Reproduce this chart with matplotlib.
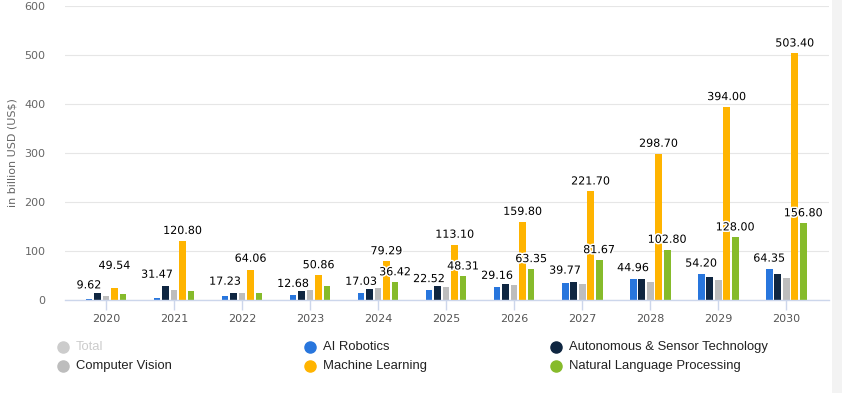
#!/usr/bin/env python3
"""
Artificial intelligence market size by segment, 2020-2030 (grouped bars).
"""

import numpy as np
import matplotlib.pyplot as plt
import matplotlib.patheffects as pe
from matplotlib.lines import Line2D
from matplotlib.patches import Rectangle

# --- data (billion USD) ---
years = ['2020', '2021', '2022', '2023', '2024', '2025',
         '2026', '2027', '2028', '2029', '2030']

ai_robotics = [2.7, 4.8, 8.2, 10.2, 14.3, 21.0, 27.0, 35.0, 43.5, 53.7, 64.0]
autonomous = [14.3, 28.6, 14.3, 18.4, 23.0, 28.6, 32.7, 37.0, 43.5, 47.0, 53.7]
computer_vision = [8.2, 21.0, 14.3, 21.0, 25.0, 26.5, 30.6, 33.0, 37.0, 41.5, 45.5]
machine_learning = [25.3, 120.8, 62.0, 50.86, 79.29, 113.1, 159.8, 221.7, 298.7, 394.0, 503.4]
nlp = [12.2, 18.4, 14.3, 28.6, 36.42, 48.31, 63.35, 81.67, 102.8, 128.0, 156.8]

# data labels as printed on the chart
robotics_labels = [9.62, 31.47, 17.23, 12.68, 17.03, 22.52, 29.16, 39.77, 44.96, 54.20, 64.35]
ml_labels = [49.54, 120.80, 64.06, 50.86, 79.29, 113.10, 159.80, 221.70, 298.70, 394.00, 503.40]
nlp_labels = [None, None, None, None, 36.42, 48.31, 63.35, 81.67, 102.80, 128.00, 156.80]

series_names = ['Total', 'AI Robotics', 'Autonomous & Sensor Technology',
                'Computer Vision', 'Machine Learning', 'Natural Language Processing']
series_colors = ['#cccccc', '#2876dd', '#0f2641', '#bdbdbd', '#ffb400', '#86bb2b']
series_visible = [False, True, True, True, True, True]

y_ticks = [0, 100, 200, 300, 400, 500, 600]


def main():
    fig = plt.figure(figsize=(8.42, 3.93), dpi=100)
    W, H = 842, 393

    # faint scrollbar band on the right edge
    fig.add_artist(Rectangle((832 / W, 0), 10 / W, 1, transform=fig.transFigure,
                             facecolor='#f3f3f3', edgecolor='none', zorder=0))

    ax = fig.add_axes([65 / W, 1 - 300 / H, (829 - 65) / W, (300 - 6) / H])

    values = [ai_robotics, autonomous, computer_vision, machine_learning, nlp]
    colors = series_colors[1:]
    x = np.arange(len(years))
    pitch = 0.125
    width = 0.1
    offsets = (np.arange(len(values)) - 2) * pitch

    for vals, col, off in zip(values, colors, offsets):
        ax.bar(x + off, vals, width=width, color=col, edgecolor='none', zorder=3)

    # data labels with white outline, like the original
    outline = [pe.withStroke(linewidth=2.2, foreground='white')]
    label_kw = dict(ha='center', va='bottom', fontsize=8, color='#000000',
                    textcoords='offset points', zorder=5, path_effects=outline)
    for i in range(len(years)):
        ax.annotate(f'{robotics_labels[i]:.2f}', (x[i] + offsets[0], robotics_labels[i]),
                    xytext=(0, 3.5), **label_kw)
        ax.annotate(f'{ml_labels[i]:.2f}', (x[i] + offsets[3], ml_labels[i]),
                    xytext=(0, 3.5), **label_kw)
        if nlp_labels[i] is not None:
            ax.annotate(f'{nlp_labels[i]:.2f}', (x[i] + offsets[4], nlp_labels[i]),
                        xytext=(0, 3.5), **label_kw)

    ax.set_xlim(-0.603, 10.63)
    ax.set_ylim(0, 600)
    ax.set_yticks(y_ticks)
    ax.set_yticklabels([str(t) for t in y_ticks], fontsize=8, color='#666666')
    ax.tick_params(axis='y', length=0, pad=14)
    ax.set_xticks(x)
    ax.set_xticklabels(years, fontsize=8, color='#555555')
    ax.tick_params(axis='x', length=7, width=1, color='#ccd6eb', pad=3)

    ax.grid(True, axis='y', color='#e6e6e6', linewidth=0.8, zorder=0)
    ax.set_axisbelow(True)
    for side in ['top', 'right', 'left']:
        ax.spines[side].set_visible(False)
    ax.spines['bottom'].set_color('#ccd6eb')
    ax.spines['bottom'].set_linewidth(1)
    ax.spines['bottom'].set_zorder(4)

    ax.set_ylabel('in billion USD (US$)', fontsize=8, color='#666666')
    ax.yaxis.set_label_coords(-47 / (829 - 65), 0.5)

    # legend laid out as a 3-column grid
    col_x = [63, 310, 556]
    row_y = [347, 366]
    for k, (name, col, vis) in enumerate(zip(series_names, series_colors, series_visible)):
        cx = col_x[k % 3]
        cy = row_y[k // 3]
        fig.add_artist(Line2D([cx / W], [1 - cy / H], transform=fig.transFigure,
                              marker='o', markersize=8, color=col, linestyle='none'))
        fig.text((cx + 13) / W, 1 - cy / H, name, fontsize=9.4,
                 family='Liberation Sans', va='center', ha='left',
                 color='#222222' if vis else '#cccccc')

    fig.savefig('out.png', dpi=100)


if __name__ == "__main__":
    main()
